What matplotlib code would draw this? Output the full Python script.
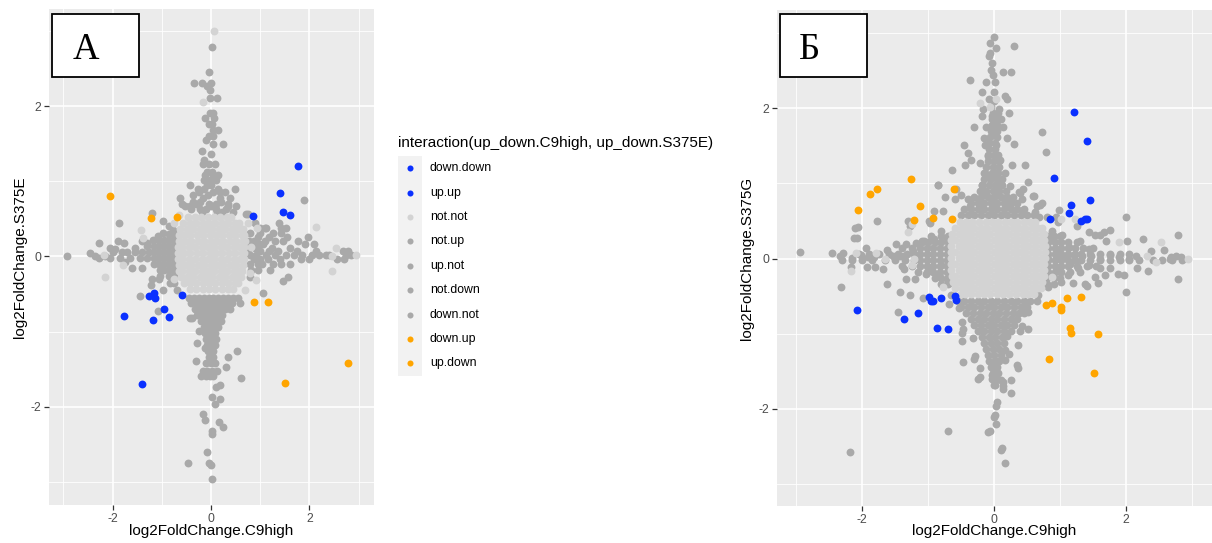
import matplotlib
matplotlib.use("Agg")
import matplotlib.pyplot as plt
from matplotlib.patches import Rectangle
from matplotlib.ticker import FixedLocator

plt.rcParams['font.family'] = ['Liberation Sans', 'DejaVu Sans']

# ---------------------------------------------------------------------------
# Data: each group is a list of rows (y, [x, x, ...]) in log2 fold change units
# ---------------------------------------------------------------------------
categories = ["down.down", "up.up", "not.not", "not.up", "up.not",
              "not.down", "down.not", "down.up", "up.down"]
legend_title = "interaction(up_down.C9high, up_down.S375E)"
tick_values = [-2, 0, 2]
tick_labels = ["-2", "0", "2"]
x_title = "log2FoldChange.C9high"
a_y_title = "log2FoldChange.S375E"
b_y_title = "log2FoldChange.S375G"

# ----- panel A : C9high vs S375E -----
a_down_down = [(-0.51, [-0.58]), (-0.52, [-1.26]), (-0.49, [-1.15]), (-0.55, [-1.14]),
               (-0.70, [-0.96]), (-0.80, [-0.85]), (-0.85, [-1.18]), (-0.79, [-1.76]),
               (-1.70, [-1.40])]
a_up_up = [(1.20, [1.77]), (0.85, [1.40]), (0.59, [1.46]), (0.55, [1.60]), (0.54, [0.86])]
a_down_up = [(0.81, [-2.06]), (0.51, [-1.21]), (0.53, [-0.70])]
a_up_down = [(-0.60, [0.88, 1.15]), (-1.42, [2.79]), (-1.68, [1.51])]

a_not_not = [
    (3.00, [0.07]), (2.06, [-0.17]),
    (0.53, [-0.46, -0.33, -0.20, -0.07, 0.06, 0.19, 0.32, 0.40]),
    (0.45, [-0.56, -0.43, -0.30, -0.17, -0.04, 0.09, 0.22, 0.35, 0.48, 0.56]),
    (0.37, [-0.62, -0.49, -0.36, -0.23, -0.10, 0.03, 0.16, 0.29, 0.42, 0.55, 0.64]),
    (0.29, [-0.65, -0.55, -0.42, -0.29, -0.16, -0.03, 0.10, 0.23, 0.36, 0.49, 0.62, 0.68]),
    (0.21, [-0.66, -0.53, -0.40, -0.27, -0.14, -0.01, 0.12, 0.25, 0.38, 0.51, 0.64, 0.69]),
    (0.13, [-0.67, -0.58, -0.45, -0.32, -0.19, -0.06, 0.07, 0.20, 0.33, 0.46, 0.59, 0.68]),
    (0.05, [-0.68, -0.55, -0.42, -0.29, -0.16, -0.03, 0.10, 0.23, 0.36, 0.49, 0.62, 0.68]),
    (-0.03, [-0.68, -0.58, -0.45, -0.32, -0.19, -0.06, 0.07, 0.20, 0.33, 0.46, 0.59, 0.67]),
    (-0.11, [-0.66, -0.53, -0.40, -0.27, -0.14, -0.01, 0.12, 0.25, 0.38, 0.51, 0.64]),
    (-0.19, [-0.64, -0.58, -0.45, -0.32, -0.19, -0.06, 0.07, 0.20, 0.33, 0.46, 0.59, 0.63]),
    (-0.27, [-0.60, -0.49, -0.36, -0.23, -0.10, 0.03, 0.16, 0.29, 0.42, 0.55, 0.60]),
    (-0.35, [-0.54, -0.43, -0.30, -0.17, -0.04, 0.09, 0.22, 0.35, 0.48, 0.54]),
    (-0.43, [-0.42, -0.30, -0.17, -0.04, 0.09, 0.22, 0.35, 0.44]),
    (0.35, [-1.42]), (0.25, [-1.38]), (0.02, [-2.18, 2.94]), (-0.11, [-1.78]),
    (-0.28, [-2.16]), (0.38, [0.93]), (0.39, [2.13]), (0.00, [2.46]), (0.11, [2.53]),
    (-0.19, [2.45]), (-0.31, [0.92]), (-0.45, [0.69]), (0.55, [-0.65]),
    (0.45, [-0.75, 0.76]), (-0.22, [0.80]), (-0.30, [-0.76]), (0.12, [0.82]),
]
a_not_up = [
    (2.79, [0.01]), (2.46, [-0.05]), (2.31, [-0.34, -0.18, 0.00]), (2.27, [-0.09]),
    (2.22, [-0.03]), (2.11, [-0.02, 0.13]), (1.91, [-0.02, 0.05]), (1.84, [-0.12, 0.06]),
    (1.77, [-0.05, 0.03]), (1.69, [0.05, 0.15]), (1.60, [-0.05, 0.04]), (1.55, [-0.10]),
    (1.50, [0.05, 0.25]), (1.40, [-0.19]), (1.37, [-0.01]), (1.28, [-0.15]),
    (1.23, [-0.16, -0.04, 0.08]), (1.13, [-0.09, 0.03]), (1.08, [-0.13, 0.05, 0.14]),
    (1.02, [-0.14, -0.03, 0.11]), (0.95, [-0.43, -0.08, 0.00]),
    (0.90, [-0.27, -0.14, 0.15, 0.49]), (0.86, [-0.24, 0.05, 0.18, 0.29]),
    (0.82, [-0.36, -0.07]), (0.78, [-0.63, -0.16, 0.18, 0.38]), (0.73, [-0.36, -0.22, 0.20]),
    (0.70, [-0.59, -0.30, -0.05, 0.11, 0.35]), (0.67, [-0.53, -0.43, 0.00, 0.34, 0.51]),
    (0.63, [-0.41, -0.23, -0.10, 0.10, 0.30]), (0.59, [-0.19, 0.13, 0.22, 0.45]),
]
a_up_not = [
    (0.75, [1.88]), (0.56, [0.72, 0.76]), (0.44, [0.90, 1.39]),
    (0.38, [0.99, 1.09, 1.12, 1.43, 1.52]), (0.31, [0.80, 1.00, 1.26, 1.43]),
    (0.26, [0.95, 1.17, 1.55, 1.97]), (0.20, [0.78, 0.88, 1.10, 1.30, 1.47, 1.77]),
    (0.16, [0.98, 1.06, 1.90, 2.10]), (0.11, [0.78, 0.90, 1.23, 1.61]),
    (0.07, [0.99, 1.18, 1.36, 1.74, 2.14, 2.68, 2.78]),
    (0.02, [0.80, 0.92, 1.12, 1.30, 1.52, 1.68, 1.85, 2.05, 2.19, 2.33, 2.40, 2.75, 2.85]),
    (-0.03, [0.88, 1.00, 1.15, 1.40, 1.82, 1.99, 2.55, 2.71]),
    (-0.10, [0.80, 0.95, 1.03, 1.26, 1.43, 1.60]), (-0.18, [0.82, 0.95, 1.19]),
    (-0.27, [0.80, 1.57]), (-0.32, [1.47]),
]
a_not_down = [
    (-0.49, [1.06]),
    (-0.55, [-0.45, -0.35, -0.25, -0.15, -0.05, 0.05, 0.15, 0.25, 0.35, 0.45, 0.55]),
    (-0.62, [-0.40, -0.28, -0.18, -0.08, 0.02, 0.12, 0.22, 0.32, 0.42, 0.59]),
    (-0.70, [-0.32, -0.22, -0.12, -0.02, 0.08, 0.18, 0.28, 0.38]),
    (-0.78, [-0.28, -0.17, -0.07, 0.03, 0.13, 0.23]), (-0.82, [-0.43, -0.39]),
    (-0.86, [-0.20, -0.10, 0.00, 0.10, 0.20]), (-0.94, [-0.15, -0.05, 0.05, 0.15]),
    (-0.99, [-0.24]), (-1.02, [-0.12, -0.02, 0.08]), (-1.10, [-0.10, 0.00, 0.10]),
    (-1.15, [-0.28]), (-1.18, [-0.08, 0.02, 0.08]), (-1.22, [-0.12]),
    (-1.26, [-0.06, 0.04, 0.52]), (-1.34, [-0.05, 0.05, 0.35]), (-1.39, [-0.30]),
    (-1.42, [-0.10, 0.00, 0.08]), (-1.47, [0.30]), (-1.52, [-0.16, -0.08, 0.02, 0.12]),
    (-1.59, [-0.21, -0.10, -0.03, 0.04]), (-1.62, [0.60]), (-1.71, [0.18]), (-1.74, [0.11]),
    (-1.87, [0.01]), (-1.90, [0.18]), (-1.96, [0.08]), (-2.10, [-0.16]), (-2.18, [-0.12]),
    (-2.21, [0.16]), (-2.27, [0.24]), (-2.32, [0.03]), (-2.37, [0.02]), (-2.60, [-0.09]),
    (-2.75, [-0.46, -0.04]), (-2.78, [0.00]), (-2.96, [0.01]),
]
a_down_not = [
    (0.58, [-1.20]), (0.47, [-0.97]), (0.44, [-1.87]), (0.40, [-0.85]), (0.35, [-0.78]),
    (0.31, [-0.97]), (0.27, [-1.07]), (0.30, [-0.75, -0.85]),
    (0.22, [-0.75, -0.85, -0.95, -1.05, -1.17]), (0.20, [-1.88, -1.41]),
    (0.18, [-2.27, -1.76, -1.30]), (0.14, [-0.75, -0.85, -0.95, -1.05, -1.15, -1.30]),
    (0.11, [-2.05, -1.54]), (0.10, [-1.95]),
    (0.06, [-0.75, -0.85, -0.95, -1.05, -1.15, -1.25, -1.40, -1.55, -1.70, -1.81, -2.00]),
    (0.05, [-2.45]), (0.01, [-2.93, -2.35, -2.15]),
    (-0.02, [-0.75, -0.85, -0.95, -1.05, -1.15, -1.30, -1.45, -1.65, -1.85, -2.05, -2.28]),
    (-0.08, [-1.74]), (-0.10, [-0.75, -0.85, -0.95, -1.05, -1.15]), (-0.16, [-1.41, -1.60]),
    (-0.18, [-0.75, -0.85, -0.95, -1.03]), (-0.26, [-0.75, -0.85, -1.03]),
    (-0.30, [-1.20, -1.06]), (-0.35, [-0.75, -0.83]), (-0.38, [-1.22]),
    (-0.44, [-0.70, -0.98]), (-0.53, [-1.44]), (-0.72, [-1.08]),
]

# ----- panel B : C9high vs S375G -----
b_down_down = [(-0.51, [-0.98]), (-0.56, [-0.95]), (-0.57, [-0.92]), (-0.52, [-0.80]),
               (-0.50, [-0.60]), (-0.55, [-0.58]), (-0.69, [-2.08]), (-0.80, [-1.36]),
               (-0.73, [-1.15]), (-0.92, [-0.86]), (-0.94, [-0.70])]
b_up_up = [(1.95, [1.21]), (1.57, [1.40]), (1.07, [0.90]), (0.78, [1.45]), (0.71, [1.17]),
           (0.61, [1.13]), (0.53, [0.84, 1.40]), (0.50, [1.32]), (0.52, [1.37])]
b_down_up = [(0.64, [-2.06]), (0.86, [-1.88]), (0.92, [-1.77]), (1.06, [-1.26]),
             (0.70, [-1.12]), (0.51, [-1.22]), (0.54, [-0.93]), (0.92, [-0.61]), (0.52, [-0.64])]
b_up_down = [(-0.62, [0.79]), (-0.59, [0.87]), (-0.65, [1.01]), (-0.69, [1.02]),
             (-0.52, [1.10]), (-0.51, [1.31]), (-0.92, [1.15]), (-0.99, [1.16]),
             (-1.00, [1.57]), (-1.33, [0.83]), (-1.52, [1.51])]

b_not_not = [
    (0.49, [-0.52, -0.42, -0.33, -0.23, -0.13, -0.04, 0.06, 0.16, 0.25, 0.35, 0.45, 0.54, 0.62]),
    (0.41, [-0.60, -0.49, -0.40, -0.30, -0.20, -0.11, -0.01, 0.09, 0.18, 0.28, 0.38, 0.47, 0.57, 0.67, 0.73]),
    (0.33, [-0.64, -0.54, -0.44, -0.35, -0.25, -0.15, -0.06, 0.04, 0.14, 0.23, 0.33, 0.43, 0.52, 0.62, 0.72, 0.76]),
    (0.25, [-0.65, -0.59, -0.49, -0.40, -0.30, -0.20, -0.11, -0.01, 0.09, 0.18, 0.28, 0.38, 0.47, 0.57, 0.67, 0.76]),
    (0.17, [-0.65, -0.54, -0.44, -0.35, -0.25, -0.15, -0.06, 0.04, 0.14, 0.23, 0.33, 0.43, 0.52, 0.62, 0.72, 0.77]),
    (0.09, [-0.66, -0.59, -0.49, -0.40, -0.30, -0.20, -0.11, -0.01, 0.09, 0.18, 0.28, 0.38, 0.47, 0.57, 0.67, 0.77]),
    (0.01, [-0.66, -0.54, -0.44, -0.35, -0.25, -0.15, -0.06, 0.04, 0.14, 0.23, 0.33, 0.43, 0.52, 0.62, 0.72, 0.77]),
    (-0.07, [-0.66, -0.59, -0.49, -0.40, -0.30, -0.20, -0.11, -0.01, 0.09, 0.18, 0.28, 0.38, 0.47, 0.57, 0.67, 0.76]),
    (-0.15, [-0.65, -0.54, -0.44, -0.35, -0.25, -0.15, -0.06, 0.04, 0.14, 0.23, 0.33, 0.43, 0.52, 0.62, 0.72, 0.76]),
    (-0.23, [-0.64, -0.59, -0.49, -0.40, -0.30, -0.20, -0.11, -0.01, 0.09, 0.18, 0.28, 0.38, 0.47, 0.57, 0.67, 0.75]),
    (-0.31, [-0.62, -0.54, -0.44, -0.35, -0.25, -0.15, -0.06, 0.04, 0.14, 0.23, 0.33, 0.43, 0.52, 0.62, 0.72]),
    (-0.39, [-0.60, -0.49, -0.40, -0.30, -0.20, -0.11, -0.01, 0.09, 0.18, 0.28, 0.38, 0.47, 0.57, 0.67, 0.71]),
    (-0.47, [-0.50, -0.44, -0.35, -0.25, -0.15, -0.06, 0.04, 0.14, 0.23, 0.33, 0.43, 0.52, 0.60]),
    (2.07, [-0.22]), (2.12, [0.03]), (2.02, [-0.06]), (0.46, [-1.24]), (0.36, [-1.30]),
    (0.08, [-2.10, -1.79]), (0.00, [-1.65, 2.94]), (-0.01, [-1.21]), (-0.09, [-1.25]),
    (-0.17, [-2.17]), (-0.38, [-0.78]), (0.53, [1.02, 1.22]), (0.22, [1.89, 2.52]),
    (-0.04, [2.45]), (0.03, [2.32]), (-0.25, [0.88]),
]
b_not_up = [
    (2.95, [0.00]), (2.87, [-0.06]), (2.82, [0.30]), (2.80, [0.03]), (2.74, [-0.07]),
    (2.69, [-0.08]), (2.60, [-0.03]), (2.51, [-0.05]), (2.48, [0.13, 0.25]), (2.44, [-0.02]),
    (2.38, [-0.36]), (2.35, [-0.13, 0.01]), (2.22, [-0.19, 0.00]), (2.16, [0.16]),
    (2.12, [-0.08, 0.19]), (1.99, [-0.17, 0.08]), (1.93, [0.23]), (1.90, [-0.19, -0.04]),
    (1.85, [0.11]), (1.75, [-0.31, -0.13, 0.03, 0.13]), (1.68, [0.72]), (1.64, [-0.01]),
    (1.60, [-0.16, 0.20]), (1.52, [0.30]), (1.51, [-0.45, -0.14, 0.03]), (1.42, [0.79]),
    (1.41, [-0.39]), (1.36, [-0.09]), (1.31, [-0.35, 0.09]), (1.27, [-0.22]),
    (1.24, [-0.44, 0.27, 0.46]), (1.18, [-0.64]), (1.14, [-0.16, 0.01, 0.16]),
    (1.07, [-0.06]), (1.02, [0.51]), (0.98, [-0.85, -0.19, 0.06]), (0.96, [0.24]),
    (0.93, [-0.58, 0.44]), (0.88, [0.37]), (0.84, [-0.50, -0.12, 0.04]), (0.83, [0.61]),
    (0.82, [-0.74]), (0.79, [-0.59, -0.40, 0.42]), (0.77, [-0.23, -0.03, 0.22]),
    (0.74, [0.73]), (0.70, [-0.37, -0.21, -0.01, 0.24, 0.65]), (0.65, [0.44, 0.98]),
    (0.63, [-0.91, -0.77]), (0.55, [0.68, 0.80, 0.93]),
    (0.58, [-0.50, -0.40, -0.30, -0.20, -0.10, 0.00, 0.10, 0.20, 0.30, 0.40, 0.50, 0.60]),
    (0.66, [-0.45, -0.35, -0.25, -0.15, -0.05, 0.05, 0.15, 0.25, 0.35, 0.45]),
    (0.74, [-0.35, -0.25, -0.15, -0.05, 0.05, 0.15, 0.25, 0.35]),
    (0.82, [-0.30, -0.20, -0.10, 0.00, 0.10, 0.20, 0.28]),
    (0.90, [-0.22, -0.12, -0.02, 0.08, 0.18]), (0.98, [-0.18, -0.08, 0.02, 0.12]),
    (1.06, [-0.15, -0.05, 0.05, 0.12]), (1.14, [-0.14, -0.04, 0.06]),
    (1.22, [-0.12, -0.02, 0.08]), (1.30, [-0.10, 0.00, 0.08]), (1.38, [-0.10, 0.00, 0.06]),
    (1.46, [-0.08, 0.02]), (1.54, [-0.08, 0.02]), (1.62, [-0.06, 0.04]), (1.70, [-0.05, 0.05]),
    (1.78, [-0.04, 0.04]), (1.86, [-0.04, 0.04]), (1.94, [-0.02, 0.06]), (2.02, [-0.05]),
    (2.10, [0.00]),
]
b_up_not = [
    (0.83, [0.59]), (0.87, [0.39]), (0.71, [0.69]), (0.62, [0.62]), (0.55, [2.00]),
    (0.48, [0.97]), (0.43, [1.25]), (0.37, [0.88]), (0.35, [1.44]),
    (0.32, [1.03, 1.52, 1.60, 2.78]), (0.36, [1.67]), (0.38, [1.75]), (0.29, [0.77]),
    (0.25, [0.88]), (0.23, [1.30, 1.69, 2.01]), (0.26, [2.26]), (0.16, [1.13]), (0.13, [1.43]),
    (0.12, [0.98, 2.58]), (0.10, [2.38]), (0.05, [1.21, 1.75]),
    (0.03, [1.08, 1.33, 1.47, 2.15, 2.76]), (0.02, [1.89, 2.68, 2.83]),
    (0.00, [0.82, 0.93, 1.60]), (-0.01, [2.05, 2.66]), (-0.07, [1.15]), (-0.09, [1.43]),
    (-0.11, [1.00]), (-0.12, [1.61, 2.16]), (-0.13, [1.27, 1.75]), (-0.17, [2.33]),
    (-0.20, [1.88]), (-0.22, [1.12, 1.68, 1.96]), (-0.24, [1.53]), (-0.27, [2.79]),
    (-0.31, [1.02]), (-0.33, [1.19]), (-0.34, [1.38]), (-0.32, [1.57]), (-0.36, [1.41]),
    (-0.38, [0.81]), (-0.45, [1.99]), (-0.49, [0.66]),
    (0.30, [0.80, 0.90, 1.00]), (0.22, [0.82, 0.92, 1.02, 1.12, 1.25]),
    (0.14, [0.82, 0.92, 1.02, 1.12, 1.22, 1.35, 1.50]),
    (0.06, [0.82, 0.92, 1.02, 1.12, 1.22, 1.32, 1.45, 1.60, 1.75, 1.90, 2.05]),
    (-0.02, [0.82, 0.92, 1.02, 1.12, 1.22, 1.32, 1.45, 1.60, 1.75, 1.90, 2.05, 2.20, 2.40, 2.55, 2.70, 2.85]),
    (-0.10, [0.82, 0.92, 1.02, 1.12, 1.25, 1.40, 1.55]),
    (-0.18, [0.82, 0.92, 1.02, 1.15, 1.30]), (-0.26, [0.80, 0.90, 1.00]), (-0.34, [0.80, 0.90]),
]
b_not_down = [
    (-0.93, [-0.47, 0.52]), (-1.09, [-0.48]), (-1.06, [-0.32]), (-1.29, [-0.29]),
    (-1.46, [-0.21, -0.02, 0.36]), (-1.57, [-0.22]), (-1.15, [0.36]), (-1.42, [0.34]),
    (-0.96, [0.39]), (-1.62, [0.26]), (-1.64, [0.14]), (-1.73, [0.13]), (-1.68, [0.01]),
    (-1.55, [-0.04]), (-1.37, [0.03]), (-1.35, [0.16]), (-1.27, [0.23]), (-1.21, [0.17]),
    (-1.03, [0.20]), (-1.91, [0.04]), (-1.96, [0.03]), (-2.10, [0.00]), (-2.20, [0.03]),
    (-2.29, [-0.07, -0.70]), (-2.31, [-0.10]), (-2.08, [0.01]), (-2.52, [0.12]),
    (-2.55, [0.10]), (-2.72, [0.16]), (-1.79, [0.26]), (-1.60, [-0.24]), (-1.38, [-0.47]),
    (-1.34, [-0.30]), (-1.69, [0.14]), (-1.61, [0.11]), (-2.57, [-2.18]), (-0.71, [0.52]),
    (-0.89, [0.42]),
    (-0.57, [-0.55, -0.45, -0.35, -0.25, -0.15, -0.05, 0.05, 0.15, 0.25, 0.35, 0.45, 0.55, 0.65]),
    (-0.64, [-0.50, -0.40, -0.30, -0.20, -0.10, 0.00, 0.10, 0.20, 0.30, 0.40, 0.50]),
    (-0.72, [-0.42, -0.32, -0.22, -0.12, -0.02, 0.08, 0.18, 0.28, 0.38, 0.45]),
    (-0.80, [-0.35, -0.25, -0.15, -0.05, 0.05, 0.15, 0.25, 0.35]),
    (-0.88, [-0.30, -0.20, -0.10, 0.00, 0.10, 0.20, 0.30]),
    (-0.96, [-0.25, -0.15, -0.05, 0.05, 0.15, 0.25]),
    (-1.04, [-0.18, -0.08, 0.02, 0.12]), (-1.12, [-0.15, -0.05, 0.05, 0.15]),
    (-1.20, [-0.12, -0.02, 0.08]), (-1.28, [-0.10, 0.00, 0.10]), (-1.36, [-0.08, 0.02, 0.08]),
    (-1.44, [-0.05, 0.05]), (-1.52, [-0.02, 0.06]), (-1.60, [-0.04, 0.04]), (-1.68, [0.00]),
]
b_down_not = [
    (0.98, [-0.85]), (0.50, [-1.78, -1.30, -0.99]), (0.42, [-2.07]), (0.28, [-2.12]),
    (0.40, [-2.11]), (0.27, [-2.08]), (0.43, [-1.27]), (0.47, [-0.97]), (0.24, [-1.10, -1.06]),
    (0.20, [-1.48]), (0.19, [-1.33]), (0.21, [-1.19]), (0.26, [-0.91]), (0.37, [-0.81]),
    (0.28, [-0.71]), (0.09, [-2.94]), (0.08, [-2.46, -2.29]), (0.03, [-2.34]), (0.01, [-2.16]),
    (0.05, [-2.01]), (0.14, [-1.94]), (0.02, [-1.91, -1.82]), (0.12, [-1.63]),
    (0.04, [-1.53, -1.36]), (0.03, [-1.43]), (0.10, [-1.23]), (-0.11, [-2.17, -1.93, -1.81]),
    (-0.14, [-1.69, -1.37]), (-0.12, [-0.95]), (-0.09, [-0.80]), (-0.34, [-1.63]),
    (-0.38, [-2.32]), (-0.27, [-1.33, -1.20, -0.72]), (-0.21, [-1.03]), (-0.23, [-0.87]),
    (-0.45, [-1.43]), (-0.48, [-1.28]), (-0.53, [-1.08]), (-0.71, [-1.45]), (-0.49, [-0.65]),
    (-0.60, [-0.68]), (-0.66, [-0.53]), (-0.84, [-0.48]), (-0.99, [-0.49]),
    (0.30, [-0.70, -0.80, -0.95]), (0.22, [-0.70, -0.80, -0.90, -1.00, -1.10]),
    (0.14, [-0.72, -0.82, -0.92, -1.02, -1.12, -1.25, -1.40]),
    (0.06, [-0.72, -0.82, -0.92, -1.02, -1.12, -1.22, -1.32, -1.45, -1.60, -1.75, -1.90, -2.05]),
    (-0.02, [-0.72, -0.82, -0.92, -1.02, -1.12, -1.22, -1.35, -1.50, -1.65, -1.85, -2.00, -2.15, -2.30]),
    (-0.10, [-0.72, -0.82, -0.92, -1.02, -1.12, -1.25, -1.40]),
    (-0.18, [-0.72, -0.82, -0.92, -1.02, -1.15]), (-0.26, [-0.70, -0.80, -0.90]),
    (-0.34, [-0.70, -0.80]),
]

# ---------------------------------------------------------------------------
# Styling
# ---------------------------------------------------------------------------
BLUE, ORANGE, LIGHT, DARK = "#0A30FF", "#FFA500", "#D3D3D3", "#A9A9A9"
category_colors = {"down.down": BLUE, "up.up": BLUE, "not.not": LIGHT,
                   "not.up": DARK, "up.not": DARK, "not.down": DARK, "down.not": DARK,
                   "down.up": ORANGE, "up.down": ORANGE}
draw_order = ["not.up", "up.not", "not.down", "down.not", "not.not",
              "down.down", "up.up", "down.up", "up.down"]

panel_a = {"down.down": a_down_down, "up.up": a_up_up, "not.not": a_not_not,
           "not.up": a_not_up, "up.not": a_up_not, "not.down": a_not_down,
           "down.not": a_down_not, "down.up": a_down_up, "up.down": a_up_down}
panel_b = {"down.down": b_down_down, "up.up": b_up_up, "not.not": b_not_not,
           "not.up": b_not_up, "up.not": b_up_not, "not.down": b_not_down,
           "down.not": b_down_not, "down.up": b_down_up, "up.down": b_up_down}

W, H = 1212, 543
POINT_SIZE = 32
fig = plt.figure(figsize=(W / 100, H / 100), dpi=100)


def px_box(left, top, right, bottom):
    return [left / W, 1 - bottom / H, (right - left) / W, (bottom - top) / H]


def unpack(rows):
    xs, ys = [], []
    for y, row in rows:
        xs.extend(row)
        ys.extend([y] * len(row))
    return xs, ys


def draw_panel(box, groups, ylabel, ylab_x, xlim, ylim):
    ax = fig.add_axes(px_box(*box))
    ax.set_facecolor("#EBEBEB")
    for cat in draw_order:
        xs, ys = unpack(groups[cat])
        ax.scatter(xs, ys, s=POINT_SIZE, c=category_colors[cat], linewidths=0, zorder=3)
    ax.set_xlim(*xlim)
    ax.set_ylim(*ylim)
    ax.set_xticks(tick_values)
    ax.set_xticklabels(tick_labels)
    ax.set_yticks(tick_values)
    ax.set_yticklabels(tick_labels)
    ax.xaxis.set_minor_locator(FixedLocator([-3, -1, 1, 3]))
    ax.yaxis.set_minor_locator(FixedLocator([-3, -1, 1, 3]))
    ax.grid(which="major", color="white", lw=1.2, zorder=0)
    ax.grid(which="minor", color="white", lw=0.6, zorder=0)
    ax.set_axisbelow(True)
    for sp in ax.spines.values():
        sp.set_visible(False)
    ax.tick_params(which="major", length=3.8, width=0.9, color="#333333",
                   labelsize=8.8, labelcolor="#4D4D4D", pad=2)
    ax.tick_params(which="minor", length=0)
    ax.set_xlabel(x_title, fontsize=11, color="black")
    ax.set_ylabel(ylabel, fontsize=11, color="black")
    ax.xaxis.label.set_va("center")
    ax.yaxis.label.set_va("center")
    ax.yaxis.label.set_ha("center")
    height = box[3] - box[1]
    width = box[2] - box[0]
    ax.xaxis.set_label_coords(0.5, -(531 - box[3]) / height)
    ax.yaxis.set_label_coords((ylab_x - box[0]) / width, 0.5)
    return ax


draw_panel((49, 8.7, 374, 505), panel_a, a_y_title, 20, (-3.29, 3.31), (-3.31, 3.30))
draw_panel((777, 10.4, 1212, 506), panel_b, b_y_title, 747, (-3.29, 3.30), (-3.29, 3.30))

# panel letters in framed boxes
for (l, t, r, b), letter, cx in [((52.3, 13.9, 139.3, 77.4), "A", 86),
                                  ((780, 13.9, 866.7, 77.4), "Б", 810)]:
    fig.add_artist(Rectangle((l / W, 1 - b / H), (r - l) / W, (b - t) / H,
                             transform=fig.transFigure, facecolor="white",
                             edgecolor="black", linewidth=1.3, zorder=10))
    fig.text(cx / W, 1 - 59.2 / H, letter, fontsize=26.5, ha="center", va="baseline",
             family=["Liberation Serif", "DejaVu Serif"], zorder=11)

# legend
leg = fig.add_axes([0, 0, 1, 1], zorder=5)
leg.set_xlim(0, W)
leg.set_ylim(H, 0)
leg.axis("off")
leg.patch.set_visible(False)
leg.text(398, 143.3, legend_title, fontsize=11, ha="left", va="center")
key_top, key_h = 156, 24.4
leg.add_patch(Rectangle((398, key_top), 24, key_h * len(categories),
                        facecolor="#F2F2F2", edgecolor="none"))
for i, cat in enumerate(categories):
    yc = key_top + key_h * (i + 0.5)
    leg.scatter([410], [yc], s=19, c=category_colors[cat], linewidths=0)
    leg.text(430, yc, cat, fontsize=8.8, ha="left", va="center")

fig.savefig("out.png", dpi=100)
